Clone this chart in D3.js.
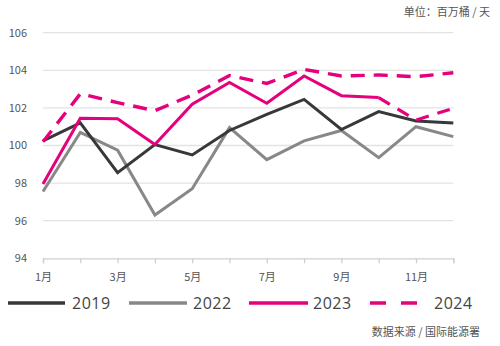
<!DOCTYPE html>
<html><head><meta charset="utf-8">
<script src="https://cdn.jsdelivr.net/npm/d3@7"></script>
<style>
body{margin:0;background:#fff;}
svg{display:block;font-family:"Noto Sans CJK SC","Noto Sans",sans-serif;}
</style></head>
<body><svg id="c" width="500" height="346"></svg>
<script>
const months = ["1月","2月","3月","4月","5月","6月","7月","8月","9月","10月","11月","12月"];
const yTicks = [94, 96, 98, 100, 102, 104, 106];
const v2019 = [100.25, 101.2, 98.55, 100.05, 99.5, 100.8, 101.65, 102.45, 100.85, 101.8, 101.3, 101.2];
const v2022 = [97.55, 100.7, 99.75, 96.3, 97.7, 100.95, 99.25, 100.25, 100.8, 99.35, 101.0, 100.47];
const v2023 = [97.95, 101.45, 101.42, 100.05, 102.2, 103.35, 102.25, 103.7, 102.65, 102.55, 101.35, 101.98];
const v2024 = [100.2, 102.75, 102.28, 101.85, 102.68, 103.72, 103.3, 104.05, 103.7, 103.75, 103.66, 103.87];
const actual2023 = 10; // months of 2023 drawn solid; the rest dashed
const seriesNames = ["2019", "2022", "2023", "2024"];

const svg = d3.select("#c");
const x = d3.scalePoint().domain(months).range([43, 453.3]);
const y = d3.scaleLinear().domain([94, 106]).range([258.3, 32.7]);

// grid
svg.append("g").selectAll("line").data(yTicks.slice(1)).join("line")
  .attr("x1", 43).attr("x2", 453.3)
  .attr("y1", d => y(d)).attr("y2", d => y(d))
  .attr("stroke", "#e3e3e3").attr("stroke-width", 1.3);

// y labels
svg.append("g").selectAll("text").data(yTicks).join("text")
  .attr("x", 27).attr("y", d => y(d)).attr("dy", "0.35em")
  .attr("text-anchor", "end").attr("font-size", 11).attr("fill", "#555")
  .text(d => d);

// x axis
const xAxis = d3.axisBottom(x).tickSize(5)
  .tickFormat((d, i) => i % 2 === 0 ? d : "");
const gx = svg.append("g").attr("transform", `translate(0,${y(94)})`).call(xAxis);
gx.select(".domain").attr("stroke", "#cfcfcf").attr("stroke-width", 1.3);
gx.selectAll(".tick line").attr("stroke", "#cfcfcf").attr("stroke-width", 1.3);
gx.selectAll(".tick text").attr("font-size", 11).attr("fill", "#555").attr("dy", "1.3em")
  .attr("font-family", "'Noto Sans CJK SC',sans-serif");

const line = d3.line().x(d => x(d.m)).y(d => y(d.v));
const toPts = arr => arr.map((v, i) => ({m: months[i], v}));

function draw(pts, color, w, dash) {
  svg.append("path").datum(pts).attr("d", line)
    .attr("fill", "none").attr("stroke", color).attr("stroke-width", w)
    .attr("stroke-linejoin", "miter").attr("stroke-dasharray", dash || null);
}
const pink = "#e5007d";
draw(toPts(v2022), "#888888", 3);
draw(toPts(v2019), "#383838", 3);
const p23 = toPts(v2023);
draw(p23.slice(0, actual2023), pink, 3);
draw(p23.slice(actual2023 - 1), pink, 3.2, "13,9");
draw(toPts(v2024), pink, 3.4, "14,9");

// legend
const legend = [
  {name: seriesNames[0], color: "#383838", x1: 8, x2: 65, tx: 72, dash: null},
  {name: seriesNames[1], color: "#888888", x1: 129, x2: 187, tx: 193, dash: null},
  {name: seriesNames[2], color: pink, x1: 249, x2: 308, tx: 313, dash: null},
  {name: seriesNames[3], color: pink, x1: 370, x2: 417, tx: 434, dash: "16,15"}
];
const lg = svg.append("g");
legend.forEach(l => {
  lg.append("line").attr("x1", l.x1).attr("x2", l.x2).attr("y1", 303).attr("y2", 303)
    .attr("stroke", l.color).attr("stroke-width", 3.5).attr("stroke-dasharray", l.dash);
  lg.append("text").attr("x", l.tx).attr("y", 303).attr("dy", "0.35em")
    .attr("font-size", 16).attr("fill", "#444").attr("letter-spacing", 0.5)
    .attr("font-family", "'Open Sans','Noto Sans',sans-serif").text(l.name);
});

svg.append("text").attr("x", 490).attr("y", 12).attr("dy", "0.35em").attr("text-anchor", "end")
  .attr("font-size", 11).attr("fill", "#555").text("单位：百万桶 / 天");
svg.append("text").attr("x", 480).attr("y", 332).attr("dy", "0.35em").attr("text-anchor", "end")
  .attr("font-size", 11).attr("fill", "#555").text("数据来源 / 国际能源署");
</script></body></html>
